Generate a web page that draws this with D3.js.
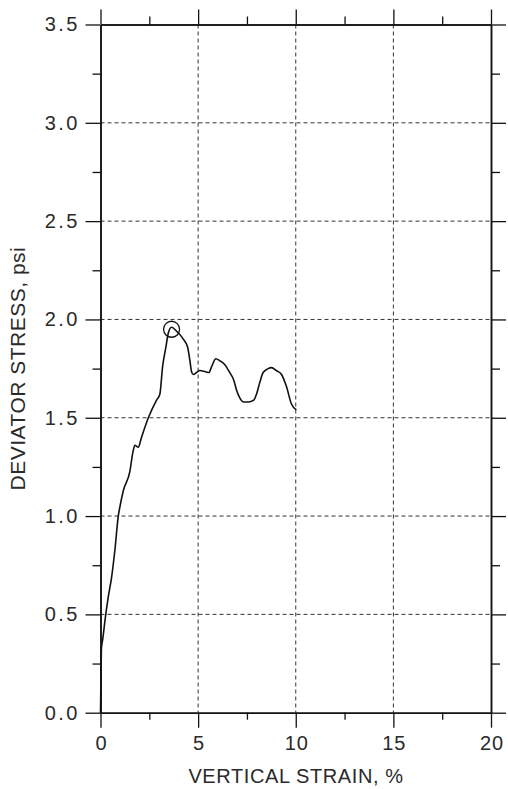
<!DOCTYPE html>
<html><head><meta charset="utf-8">
<script src="https://cdn.jsdelivr.net/npm/d3@7"></script>
<style>body{margin:0;background:#fff}svg{display:block}text{font-family:"Liberation Sans",Arial,sans-serif;fill:#2a2a2a}</style>
</head><body>
<svg id="c" width="508" height="789"></svg>
<script>
const strain = [0,0.02,0.05,0.11,0.23,0.40,0.57,0.74,0.91,1.0,1.17,1.51,1.65,1.76,1.93,2.1,2.45,2.87,3.04,3.18,3.35,3.47,3.64,3.9,4.24,4.46,4.58,4.66,4.75,4.92,5.09,5.35,5.55,5.69,5.91,6.11,6.37,6.62,6.83,6.97,7.14,7.34,7.56,7.85,7.99,8.16,8.33,8.58,8.76,9.01,9.27,9.52,9.78,10.03];
const stress = [0,0.15,0.33,0.37,0.47,0.59,0.69,0.83,1.0,1.05,1.13,1.23,1.32,1.36,1.35,1.40,1.50,1.59,1.62,1.76,1.86,1.93,1.96,1.94,1.90,1.86,1.79,1.735,1.72,1.73,1.74,1.735,1.73,1.76,1.80,1.79,1.77,1.73,1.69,1.64,1.60,1.58,1.58,1.59,1.62,1.68,1.73,1.75,1.755,1.74,1.72,1.66,1.57,1.54];
const peak = {x:3.64, y:1.95};
const xTicks = [0,5,10,15,20];
const xMinor = [2.5,7.5,12.5,17.5];
const yTicks = [0,0.5,1.0,1.5,2.0,2.5,3.0,3.5];
const yMinor = [0.25,0.75,1.25,1.75,2.25,2.75,3.25];
const xTitle = "VERTICAL STRAIN, %";
const yTitle = "DEVIATOR STRESS, psi";

const L=100.5,R=491,T=24.5,B=712.7;
const svg=d3.select("#c");
const x=d3.scaleLinear().domain([0,20]).range([L,R]);
const y=d3.scaleLinear().domain([0,3.5]).range([B,T]);

// grid
const g=svg.append("g").attr("stroke","#333").attr("stroke-width",1).attr("stroke-dasharray","4,3");
g.selectAll("line.vx").data(xTicks.slice(1,-1)).join("line").attr("x1",d=>x(d)).attr("x2",d=>x(d)).attr("y1",T).attr("y2",B);
g.selectAll("line.hy").data(yTicks.slice(1,-1)).join("line").attr("y1",d=>y(d)).attr("y2",d=>y(d)).attr("x1",L).attr("x2",R);

// axes
const fmtY=d3.format(".1f");
const ax=(gen,tr)=>svg.append("g").attr("transform",tr).call(gen).call(s=>{s.select(".domain").attr("stroke","#111").attr("stroke-width",1.5);s.selectAll(".tick line").attr("stroke","#111").attr("stroke-width",1.3);});
const bottom=ax(d3.axisBottom(x).tickValues(xTicks).tickSize(15).tickSizeOuter(0).tickPadding(8).tickFormat(d3.format("d")),`translate(0,${B})`);
bottom.selectAll("text").attr("font-size",20).attr("fill","#2a2a2a").attr("font-family","Liberation Sans").attr("letter-spacing",1).attr("dx",0.5);
ax(d3.axisBottom(x).tickValues(xMinor).tickSize(7).tickSizeOuter(0).tickFormat(""),`translate(0,${B})`);
ax(d3.axisTop(x).tickValues(xTicks).tickSize(15).tickSizeOuter(0).tickFormat(""),`translate(0,${T})`);
ax(d3.axisTop(x).tickValues(xMinor).tickSize(8).tickSizeOuter(0).tickFormat(""),`translate(0,${T})`);
const left=ax(d3.axisLeft(y).tickValues(yTicks).tickSize(15).tickSizeOuter(0).tickPadding(8).tickFormat(fmtY),`translate(${L},0)`);
left.selectAll("text").attr("font-size",20).attr("fill","#2a2a2a").attr("font-family","Liberation Sans").attr("letter-spacing",2.5).attr("dx",2.5);
ax(d3.axisLeft(y).tickValues(yMinor).tickSize(8).tickSizeOuter(0).tickFormat(""),`translate(${L},0)`);
ax(d3.axisRight(y).tickValues(yTicks).tickSize(15).tickSizeOuter(0).tickFormat(""),`translate(${R},0)`);
ax(d3.axisRight(y).tickValues(yMinor).tickSize(9).tickSizeOuter(0).tickFormat(""),`translate(${R},0)`);

// curve
const data=strain.map((s,i)=>({x:s,y:stress[i]}));
svg.append("path").datum(data).attr("fill","none").attr("stroke","#111").attr("stroke-width",1.6).attr("stroke-linejoin","round")
  .attr("d",d3.line().x(d=>x(d.x)).y(d=>y(d.y)).curve(d3.curveMonotoneX));
svg.append("circle").attr("cx",x(peak.x)).attr("cy",y(peak.y)).attr("r",8).attr("fill","none").attr("stroke","#111").attr("stroke-width",1.3);

// titles
svg.append("text").attr("x",(L+R)/2+0.3).attr("y",783).attr("text-anchor","middle").attr("font-size",20).attr("letter-spacing",0.6).text(xTitle);
svg.append("text").attr("transform",`translate(25,${(T+B)/2}) rotate(-90)`).attr("text-anchor","middle").attr("font-size",21).attr("letter-spacing",0.5).text(yTitle);
</script>
</body></html>
